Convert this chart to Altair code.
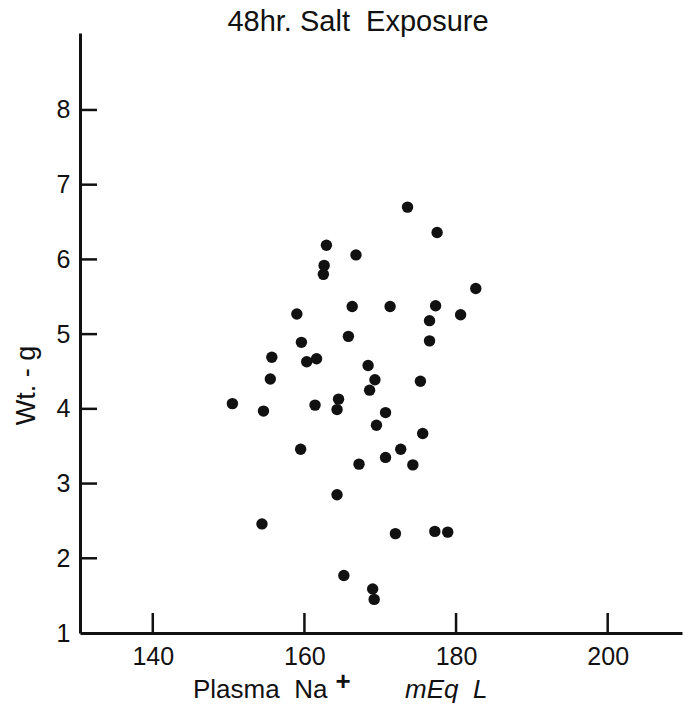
import altair as alt
import pandas as pd

# Data (Plasma Na+ mEq/L vs weight in g)
plasma_na = [173.6, 177.5, 162.9, 166.8, 162.6, 162.5, 182.6, 159.0, 166.3, 171.3,
             177.3, 180.6, 176.5, 159.6, 165.8, 176.5, 155.7, 160.3, 161.6, 168.4,
             169.3, 168.6, 175.3, 155.5, 150.5, 154.6, 161.4, 164.5, 164.3, 170.7,
             169.5, 175.6, 159.5, 167.2, 170.7, 172.7, 174.3, 164.3, 154.4, 172.0,
             177.2, 178.9, 165.2, 169.0, 169.2]
weight = [6.70, 6.36, 6.19, 6.06, 5.92, 5.80, 5.61, 5.27, 5.37, 5.37,
          5.38, 5.26, 5.18, 4.89, 4.97, 4.91, 4.69, 4.63, 4.67, 4.58,
          4.39, 4.25, 4.37, 4.40, 4.07, 3.97, 4.05, 4.13, 3.99, 3.95,
          3.78, 3.67, 3.46, 3.26, 3.35, 3.46, 3.25, 2.85, 2.46, 2.33,
          2.36, 2.35, 1.77, 1.59, 1.45]

x_ticks = [140, 160, 180, 200]
y_ticks = [1, 2, 3, 4, 5, 6, 7, 8]
y_inner_ticks = [2, 3, 4, 5, 6, 7, 8]
title_text = ["48hr. Salt\u00a0 Exposure"]
y_title = "Wt. - g"
x_title_parts = ["Plasma\u00a0 Na", "+", "mEq\u00a0 L"]

FONT = "Liberation Sans"
INK = "#111111"
X_DOMAIN = [130.4, 209.8]
Y_DOMAIN = [1, 9.03]

df = pd.DataFrame({"na": plasma_na, "wt": weight})

xscale = alt.Scale(domain=X_DOMAIN, nice=False, zero=False)
yscale = alt.Scale(domain=Y_DOMAIN, nice=False, zero=False)

points = alt.Chart(df).mark_circle(size=130, color=INK, opacity=1).encode(
    x=alt.X("na:Q", scale=xscale,
            axis=alt.Axis(values=x_ticks, format="d", title=None, grid=False, ticks=False, tickSize=0,
                          domainWidth=3, domainColor=INK,
                          labelFont=FONT, labelFontSize=25, labelColor=INK,
                          labelPadding=11)),
    y=alt.Y("wt:Q", scale=yscale,
            axis=alt.Axis(values=y_ticks, format="d", title=y_title, grid=False, ticks=False, tickSize=0,
                          domainWidth=3, domainColor=INK,
                          labelFont=FONT, labelFontSize=25, labelColor=INK,
                          labelPadding=10, labelFontWeight="normal",
                          titleFont=FONT, titleFontSize=27, titleFontWeight="normal",
                          titleColor=INK, titleX=-40, titleY=352,
                          titleAngle=270, titleAlign="center", titleBaseline="bottom")),
)

xt = alt.Chart(pd.DataFrame({"v": x_ticks})).mark_rule(color=INK, strokeWidth=2.5).encode(
    x=alt.X("v:Q", scale=xscale), y=alt.value(600), y2=alt.value(580))

yt = alt.Chart(pd.DataFrame({"v": y_inner_ticks})).mark_rule(color=INK, strokeWidth=2.5).encode(
    y=alt.Y("v:Q", scale=yscale), x=alt.value(0), x2=alt.value(17))

title = alt.Chart(pd.DataFrame({"t": title_text})).mark_text(
    font=FONT, fontSize=29, align="center", baseline="alphabetic", color=INK).encode(
    text="t:N", x=alt.value(278), y=alt.value(-2))

xt1 = alt.Chart(pd.DataFrame({"t": [x_title_parts[0]]})).mark_text(
    font=FONT, fontSize=26, align="left", baseline="alphabetic", color=INK).encode(
    text="t:N", x=alt.value(113), y=alt.value(665))
xt2 = alt.Chart(pd.DataFrame({"t": [x_title_parts[1]]})).mark_text(
    font=FONT, fontSize=26, fontWeight="bold", align="center", baseline="alphabetic", color=INK).encode(
    text="t:N", x=alt.value(263), y=alt.value(657))
xt3 = alt.Chart(pd.DataFrame({"t": [x_title_parts[2]]})).mark_text(
    font=FONT, fontSize=26, fontStyle="italic", align="left", baseline="alphabetic", color=INK).encode(
    text="t:N", x=alt.value(325), y=alt.value(665))

chart = alt.layer(points, xt, yt, title, xt1, xt2, xt3).properties(
    width=602, height=600, background="white",
    autosize=alt.AutoSizeParams(type="none"),
    padding={"left": 80, "top": 33, "right": 3, "bottom": 74},
).configure_view(stroke=None)

chart.save("out.html", embed_options={"renderer": "svg", "actions": False})
